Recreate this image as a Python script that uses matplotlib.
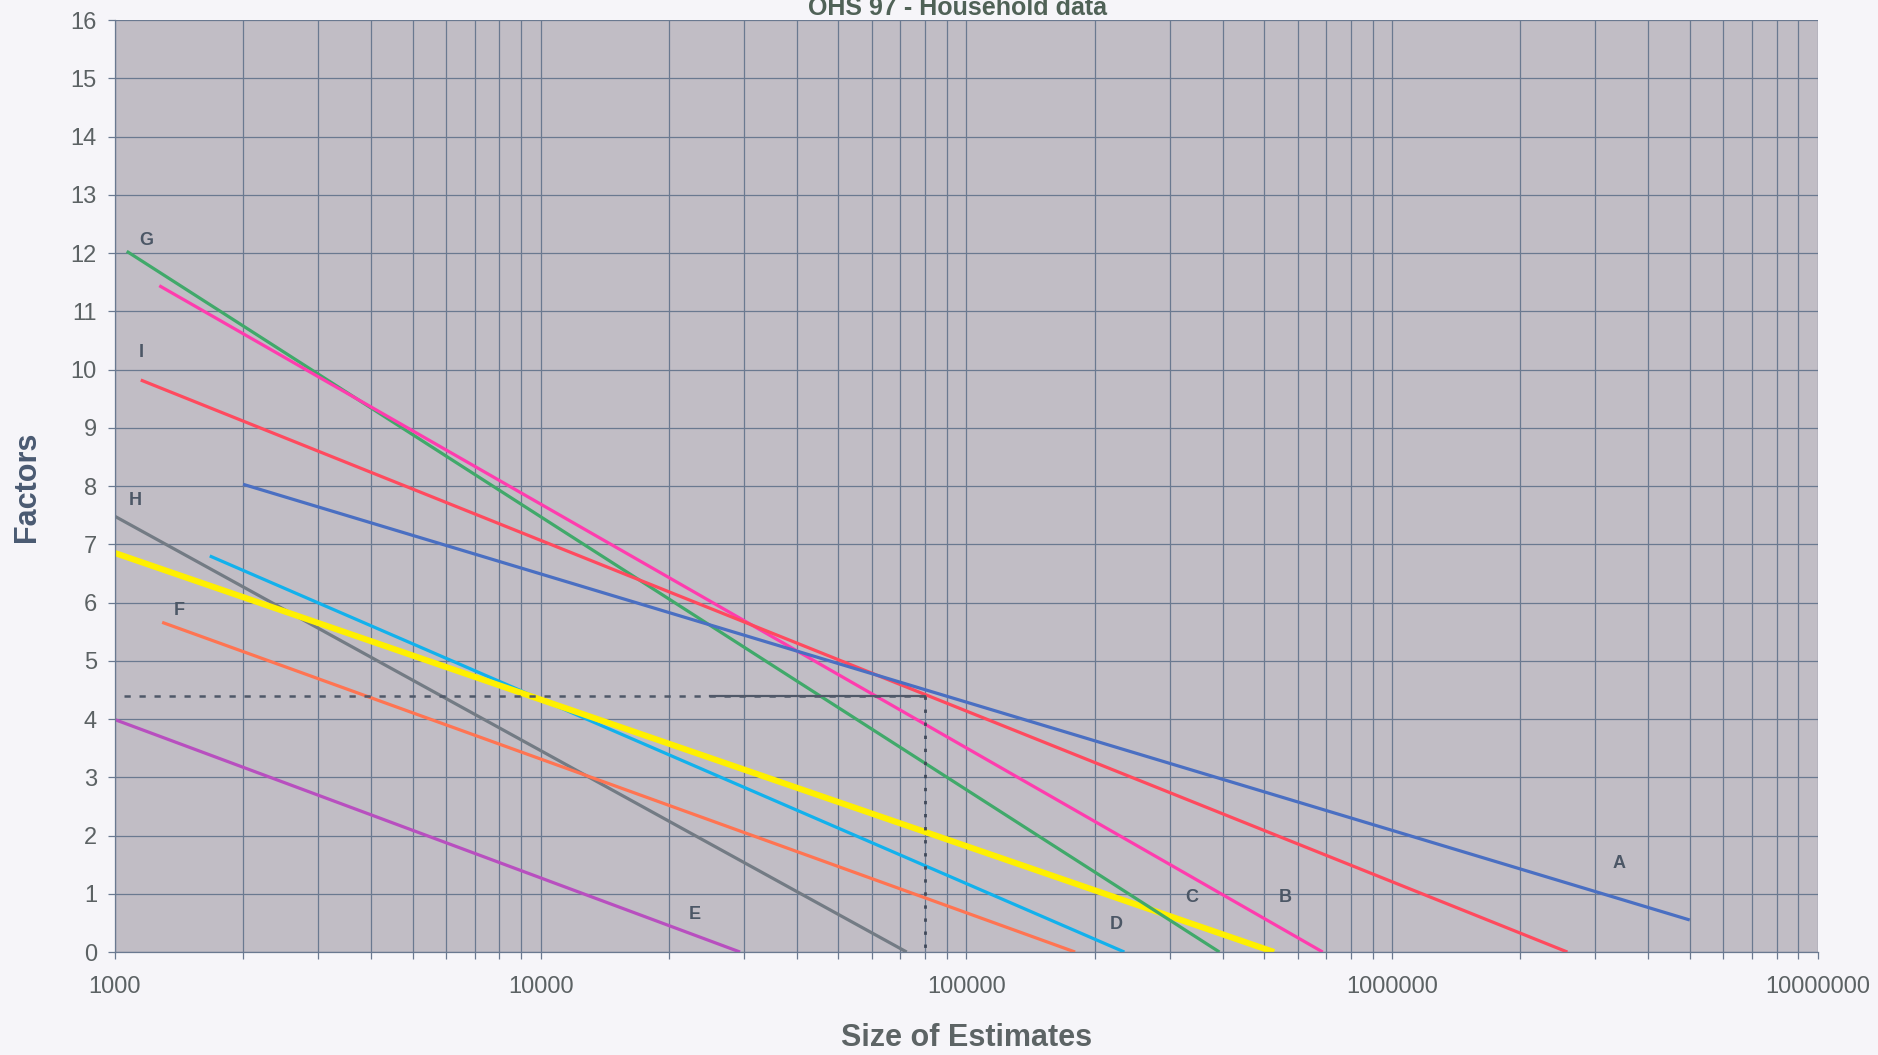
import matplotlib.pyplot as plt
from matplotlib.ticker import LogLocator, NullFormatter
import numpy as np

plt.rcParams['font.family'] = ['Liberation Sans', 'DejaVu Sans']

# factor curves: (size, factor) at start and end of each line
a_x = [2000, 5.0e6]
a_y = [8.03, 0.55]
i_x = [1150, 2.58e6]
i_y = [9.82, 0.0]
pink_x = [1271, 687000]
pink_y = [11.44, 0.0]
g_x = [1066, 393000]
g_y = [12.03, 0.0]
cyan_x = [1670, 235000]
cyan_y = [6.80, 0.0]
yellow_x = [1000, 528000]
yellow_y = [6.85, 0.0]
h_x = [1000, 72400]
h_y = [7.48, 0.0]
f_x = [1291, 180000]
f_y = [5.66, 0.0]
e_x = [1000, 29400]
e_y = [3.99, 0.0]

# reading guide
ref_size = 80000
ref_factor = 4.4

line_labels = ['A', 'B', 'C', 'D', 'E', 'F', 'G', 'H', 'I']

fig = plt.figure(figsize=(18.78, 10.55), dpi=100)
fig.patch.set_facecolor('#f6f5f9')
ax = fig.add_axes([0.0612, 0.0976, 0.9068, 0.8834])
ax.set_facecolor('#c1bdc5')

lw = 2.3
ax.plot(e_x, e_y, color='#b84fbf', lw=lw, solid_capstyle='butt')
ax.plot(h_x, h_y, color='#737b84', lw=lw, solid_capstyle='butt')
ax.plot(f_x, f_y, color='#ff7452', lw=lw, solid_capstyle='butt')
ax.plot(cyan_x, cyan_y, color='#12b1ec', lw=lw, solid_capstyle='butt')
ax.plot(yellow_x, yellow_y, color='#fff000', lw=4.4, solid_capstyle='butt')
ax.plot(g_x, g_y, color='#40a96a', lw=lw, solid_capstyle='butt')
ax.plot(pink_x, pink_y, color='#ff3cae', lw=lw, solid_capstyle='butt')
ax.plot(i_x, i_y, color='#ff4a5e', lw=lw, solid_capstyle='butt')
ax.plot(a_x, a_y, color='#4a6fc2', lw=lw, solid_capstyle='butt')

# guide lines from the factor axis to the size axis
ax.plot([1050, ref_size], [ref_factor, ref_factor], color='#4f5868', lw=1.8,
        ls=(0, (2.5, 3.5)))
ax.plot([25000, ref_size], [ref_factor, ref_factor], color='#505868', lw=1.6)
ax.plot([ref_size, ref_size], [ref_factor, 0], color='#3f4858', lw=2.0,
        ls=(0, (1.2, 3.5)))

lab_kw = dict(color='#4c5766', fontsize=13, fontweight='bold', ha='center', va='center')
lab_pos = {'A': (3.41e6, 1.52), 'B': (560000, 0.93), 'C': (338000, 0.93),
           'D': (225000, 0.47), 'E': (22970, 0.64), 'F': (1419, 5.86),
           'G': (1183, 12.22), 'H': (1116, 7.76), 'I': (1153, 10.29)}
for name in line_labels:
    ax.text(*lab_pos[name], name, **lab_kw)

ax.set_xscale('log')
ax.set_xlim(1000, 1e7)
ax.set_ylim(0, 16)
ax.xaxis.set_minor_locator(LogLocator(base=10, subs=np.arange(2, 10), numticks=100))
ax.xaxis.set_minor_formatter(NullFormatter())
ax.set_xticks([1000, 10000, 100000, 1000000, 10000000])
ax.set_xticklabels(['1000', '10000', '100000', '1000000', '10000000'])
ax.set_yticks(range(0, 17))

grid_c = '#6a7990'
ax.grid(True, which='major', color=grid_c, lw=0.9)
ax.grid(True, which='minor', axis='x', color=grid_c, lw=0.9)
ax.set_axisbelow(True)
for s in ['top', 'right']:
    ax.spines[s].set_visible(False)
for s in ['left', 'bottom']:
    ax.spines[s].set_color(grid_c)
    ax.spines[s].set_linewidth(0.9)

ax.tick_params(axis='both', which='both', color=grid_c, labelcolor='#5c6264',
               labelsize=17, length=5, width=0.9)
ax.tick_params(axis='x', which='major', pad=12)
ax.tick_params(axis='y', pad=8)

fig.text(0.51, 0.9858, 'OHS 97 - Household data', ha='center', va='baseline',
         fontsize=18, fontweight='bold', color='#506257')
fig.text(0.5147, 0.009, 'Size of Estimates', ha='center', va='baseline',
         fontsize=22, fontweight='bold', color='#5d6465')
fig.text(0.0145, 0.539, 'Factors', ha='center', va='center', rotation=90,
         fontsize=22, fontweight='bold', color='#4a5a72')

plt.savefig('out.png', dpi=100, facecolor=fig.get_facecolor())
plt.close()
